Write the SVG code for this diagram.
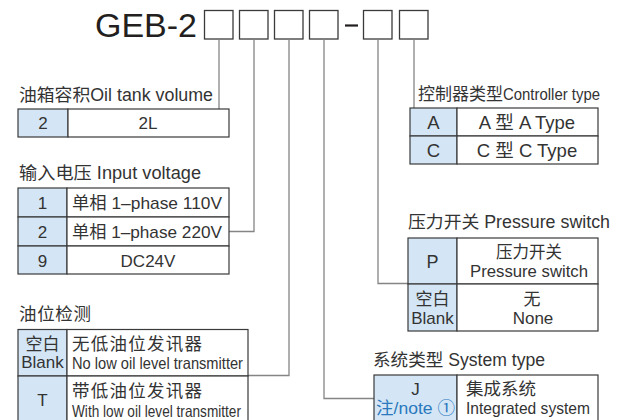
<svg xmlns="http://www.w3.org/2000/svg" width="620" height="420" viewBox="0 0 620 420">
<style>
text{font-family:"Liberation Sans","Noto Sans CJK SC",sans-serif;fill:#333;}
.t{font-size:17.5px;}
.c{font-size:17px;text-anchor:middle;}
.l{font-size:17px;}
.box{fill:#fff;stroke:#3a3a3a;stroke-width:1.3;}
.cell{fill:#fff;stroke:#3a3a3a;stroke-width:1.2;}
.code{fill:#d4e6f5;stroke:#3a3a3a;stroke-width:1.2;}
.conn{fill:none;stroke:#858585;stroke-width:1.3;}
</style>
<rect width="620" height="420" fill="#fff"/>
<g id="title">
<text x="95" y="37" style="font-size:34px;fill:#231f20">GEB-2</text>
<rect class="box" x="204.5" y="10.5" width="28.5" height="28.5"/>
<rect class="box" x="239.5" y="10.5" width="28.5" height="28.5"/>
<rect class="box" x="274.5" y="10.5" width="28.5" height="28.5"/>
<rect class="box" x="309.5" y="10.5" width="28.5" height="28.5"/>
<line x1="345" y1="25.5" x2="358" y2="25.5" stroke="#231f20" stroke-width="2.2"/>
<rect class="box" x="363.5" y="10.5" width="28.5" height="28.5"/>
<rect class="box" x="399.5" y="10.5" width="28.5" height="28.5"/>
</g>
<g id="connectors">
<path class="conn" d="M219,39 V109"/>
<path class="conn" d="M254,39 V231.5 H229"/>
<path class="conn" d="M289,39 V375.5 H248"/>
<path class="conn" d="M324,39 V398.5 H374"/>
<path class="conn" d="M378,39 V283.5 H408"/>
<path class="conn" d="M414,39 V108"/>
</g>
<g id="oil-tank">
<text class="t" x="19" y="101" textLength="194" lengthAdjust="spacingAndGlyphs">油箱容积Oil tank volume</text>
<rect class="code" x="18" y="109" width="50" height="28"/>
<rect class="cell" x="68" y="109" width="161" height="28"/>
<text class="c" x="43" y="129">2</text>
<text class="c" x="148" y="129">2L</text>
</g>
<g id="input-voltage">
<text class="t" x="19" y="179" textLength="182" lengthAdjust="spacingAndGlyphs">输入电压 Input voltage</text>
<rect class="code" x="18" y="188" width="49" height="29"/>
<rect class="cell" x="67" y="188" width="162" height="29"/>
<rect class="code" x="18" y="217" width="49" height="29"/>
<rect class="cell" x="67" y="217" width="162" height="29"/>
<rect class="code" x="18" y="246" width="49" height="28"/>
<rect class="cell" x="67" y="246" width="162" height="28"/>
<text class="c" x="42.5" y="209">1</text>
<text class="c" x="42.5" y="238">2</text>
<text class="c" x="42.5" y="267">9</text>
<text class="l" x="72" y="209" textLength="150" lengthAdjust="spacingAndGlyphs">单相 1–phase 110V</text>
<text class="l" x="72" y="238" textLength="150" lengthAdjust="spacingAndGlyphs">单相 1–phase 220V</text>
<text class="c" x="148" y="267">DC24V</text>
</g>
<g id="oil-level">
<text class="t" x="19" y="320" textLength="72" lengthAdjust="spacing">油位检测</text>
<rect class="code" x="18" y="329.5" width="49" height="46.5"/>
<rect class="cell" x="67" y="329.5" width="181" height="46.5"/>
<rect class="code" x="18" y="376" width="49" height="60"/>
<rect class="cell" x="67" y="376" width="181" height="60"/>
<text class="c" x="42.5" y="350">空白</text>
<text class="c" x="42.5" y="368">Blank</text>
<text class="t" x="72" y="350" textLength="130" lengthAdjust="spacing">无低油位发讯器</text>
<text x="72" y="369" style="font-size:16.5px" textLength="171" lengthAdjust="spacingAndGlyphs">No low oil level transmitter</text>
<text class="c" x="42.5" y="406">T</text>
<text class="t" x="72" y="397" textLength="130" lengthAdjust="spacing">带低油位发讯器</text>
<text x="72" y="416.5" style="font-size:16.5px" textLength="169" lengthAdjust="spacingAndGlyphs">With low oil level transmitter</text>
</g>
<g id="controller-type">
<text class="l" x="418" y="100">控制器类型</text>
<text x="503" y="100" style="font-size:16.5px" textLength="97" lengthAdjust="spacingAndGlyphs">Controller type</text>
<rect class="code" x="410" y="108" width="47" height="28"/>
<rect class="cell" x="457" y="108" width="141" height="28"/>
<rect class="code" x="410" y="136" width="47" height="28"/>
<rect class="cell" x="457" y="136" width="141" height="28"/>
<text class="c" x="433.5" y="128.5" style="font-size:18.5px">A</text>
<text class="c" x="527" y="128.5" style="font-size:18.5px">A 型 A Type</text>
<text class="c" x="433.5" y="156.5" style="font-size:18.5px">C</text>
<text class="c" x="527" y="156.5" style="font-size:18.5px">C 型 C Type</text>
</g>
<g id="pressure-switch">
<text class="t" x="408" y="228" textLength="202" lengthAdjust="spacingAndGlyphs">压力开关 Pressure switch</text>
<rect class="code" x="408" y="238" width="49" height="46"/>
<rect class="cell" x="457" y="238" width="141" height="46"/>
<rect class="code" x="408" y="284" width="49" height="47"/>
<rect class="cell" x="457" y="284" width="141" height="47"/>
<text class="c" x="432.5" y="267.5" style="font-size:18px">P</text>
<text class="c" x="529" y="257.5" style="font-size:16.5px">压力开关</text>
<text class="c" x="529" y="276.5" style="font-size:16.5px" textLength="118" lengthAdjust="spacingAndGlyphs">Pressure switch</text>
<text class="c" x="432.5" y="305">空白</text>
<text class="c" x="432.5" y="324">Blank</text>
<text class="c" x="532" y="305">无</text>
<text class="c" x="533" y="324">None</text>
</g>
<g id="system-type">
<text class="t" x="373" y="366" textLength="172" lengthAdjust="spacingAndGlyphs">系统类型 System type</text>
<rect class="code" x="374" y="375" width="83" height="60"/>
<rect class="cell" x="457" y="375" width="141" height="60"/>
<text class="c" x="415.5" y="395">J</text>
<text class="c" x="415.5" y="414" style="fill:#2a78bd" textLength="79" lengthAdjust="spacingAndGlyphs">注/note ①</text>
<text class="t" x="466" y="395">集成系统</text>
<text x="466" y="414" style="font-size:16.5px" textLength="124" lengthAdjust="spacingAndGlyphs">Integrated system</text>
</g>
</svg>
